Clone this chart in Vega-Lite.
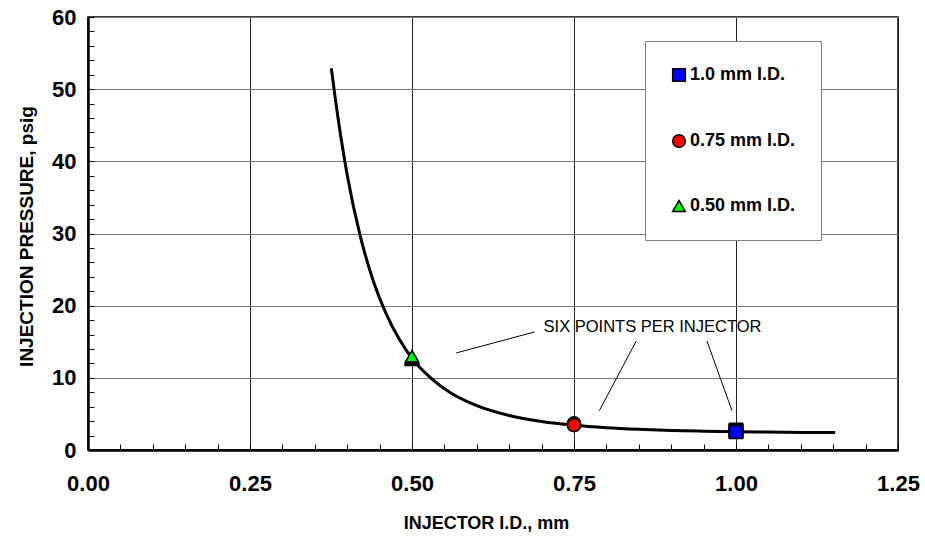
{
  "$schema": "https://vega.github.io/schema/vega-lite/v6.json",
  "width": 810,
  "height": 433,
  "autosize": "none",
  "padding": {"left": 88, "top": 17, "right": 27, "bottom": 86},
  "background": "white",
  "config": {"font": "Liberation Sans", "view": {"stroke": "black", "strokeWidth": 1.5}},
  "datasets": {
    "curve": [
      {"x": 0.3755, "y": 52.9}, {"x": 0.38, "y": 49.8}, {"x": 0.39, "y": 43.5}, {"x": 0.40, "y": 38.1},
      {"x": 0.42, "y": 29.7}, {"x": 0.44, "y": 23.5}, {"x": 0.46, "y": 18.9}, {"x": 0.48, "y": 15.4},
      {"x": 0.50, "y": 12.7}, {"x": 0.53, "y": 9.9}, {"x": 0.56, "y": 7.9}, {"x": 0.60, "y": 6.15},
      {"x": 0.65, "y": 4.78}, {"x": 0.70, "y": 3.95}, {"x": 0.75, "y": 3.43}, {"x": 0.80, "y": 3.09},
      {"x": 0.85, "y": 2.87}, {"x": 0.90, "y": 2.71}, {"x": 0.95, "y": 2.61}, {"x": 1.00, "y": 2.53},
      {"x": 1.05, "y": 2.48}, {"x": 1.10, "y": 2.44}, {"x": 1.153, "y": 2.41}
    ],
    "points": [
      {"series": "0.50 mm I.D.", "x": 0.5, "y": 12.5}, {"series": "0.50 mm I.D.", "x": 0.5, "y": 12.6},
      {"series": "0.50 mm I.D.", "x": 0.5, "y": 12.7}, {"series": "0.50 mm I.D.", "x": 0.5, "y": 12.8},
      {"series": "0.50 mm I.D.", "x": 0.5, "y": 12.9}, {"series": "0.50 mm I.D.", "x": 0.5, "y": 13.0},
      {"series": "0.75 mm I.D.", "x": 0.75, "y": 3.7}, {"series": "0.75 mm I.D.", "x": 0.75, "y": 3.6},
      {"series": "0.75 mm I.D.", "x": 0.75, "y": 3.55}, {"series": "0.75 mm I.D.", "x": 0.75, "y": 3.5},
      {"series": "0.75 mm I.D.", "x": 0.75, "y": 3.45}, {"series": "0.75 mm I.D.", "x": 0.75, "y": 3.45},
      {"series": "1.0 mm I.D.", "x": 1.0, "y": 2.8}, {"series": "1.0 mm I.D.", "x": 1.0, "y": 2.7},
      {"series": "1.0 mm I.D.", "x": 1.0, "y": 2.65}, {"series": "1.0 mm I.D.", "x": 1.0, "y": 2.6},
      {"series": "1.0 mm I.D.", "x": 1.0, "y": 2.55}, {"series": "1.0 mm I.D.", "x": 1.0, "y": 2.5}
    ],
    "leaders": [
      {"x": 0.6894, "y": 16.36, "x2": 0.5683, "y2": 13.45},
      {"x": 0.8461, "y": 15.1, "x2": 0.789, "y2": 5.44},
      {"x": 0.9552, "y": 15.1, "x2": 0.9938, "y2": 5.44}
    ],
    "note": [{"x": 0.703, "y": 17.0, "label": "SIX POINTS PER INJECTOR"}]
  },
  "layer": [
    {
      "data": {"name": "curve"},
      "mark": {"type": "line", "color": "black", "strokeWidth": 3, "interpolate": "monotone"},
      "encoding": {
        "x": {
          "field": "x", "type": "quantitative",
          "scale": {"domain": [0, 1.25], "nice": false, "zero": false},
          "axis": {
            "title": "INJECTOR I.D., mm",
            "values": [0, 0.05, 0.1, 0.15, 0.2, 0.25, 0.3, 0.35, 0.4, 0.45, 0.5, 0.55, 0.6, 0.65, 0.7, 0.75, 0.8, 0.85, 0.9, 0.95, 1.0, 1.05, 1.1, 1.15, 1.2, 1.25],
            "tickCount": 200,
            "format": ".2f",
            "labelExpr": "round(datum.value*100) % 25 === 0 ? datum.label : ''",
            "labelFont": "Liberation Sans", "labelFontSize": 22, "labelFontWeight": "bold", "labelColor": "black",
            "labelPadding": 29, "labelFlush": false, "labelOverlap": false, "labelBound": false,
            "tickSize": -6, "tickColor": "black", "tickWidth": 1,
            "domainColor": "black", "domainWidth": 2.5,
            "grid": true, "gridColor": "#222", "gridWidth": 1,
            "gridOpacity": {"condition": {"test": "round(datum.value*100) % 25 !== 0", "value": 0}, "value": 1},
            "titleFont": "Liberation Sans", "titleFontSize": 18, "titleFontWeight": "bold", "titleColor": "black",
            "titleX": 398, "titleY": 73, "titleAlign": "center", "titleBaseline": "middle", "titleAnchor": null
          }
        },
        "y": {
          "field": "y", "type": "quantitative",
          "scale": {"domain": [0, 60], "nice": false},
          "axis": {
            "title": "INJECTION PRESSURE, psig",
            "values": [0, 2, 4, 6, 8, 10, 12, 14, 16, 18, 20, 22, 24, 26, 28, 30, 32, 34, 36, 38, 40, 42, 44, 46, 48, 50, 52, 54, 56, 58, 60],
            "tickCount": 200,
            "format": "d",
            "labelExpr": "datum.value % 10 === 0 ? datum.label : ''",
            "labelFont": "Liberation Sans", "labelFontSize": 22, "labelFontWeight": "bold", "labelColor": "black",
            "labelPadding": 18, "labelFlush": false, "labelOverlap": false, "labelBound": false,
            "tickSize": -6, "tickColor": "black", "tickWidth": 1,
            "domainColor": "black", "domainWidth": 2.5,
            "grid": true, "gridColor": "#777", "gridWidth": 1.2,
            "gridOpacity": {"condition": {"test": "datum.value % 10 !== 0", "value": 0}, "value": 1},
            "titleFont": "Liberation Sans", "titleFontSize": 19, "titleFontWeight": "bold", "titleColor": "black",
            "titleX": -62, "titleY": 219, "titleAngle": -90, "titleAlign": "center", "titleBaseline": "middle", "titleAnchor": null
          }
        }
      }
    },
    {
      "data": {"name": "leaders"},
      "mark": {"type": "rule", "color": "black", "strokeWidth": 1},
      "encoding": {
        "x": {"field": "x", "type": "quantitative"},
        "y": {"field": "y", "type": "quantitative"},
        "x2": {"field": "x2"},
        "y2": {"field": "y2"}
      }
    },
    {
      "data": {"name": "note"},
      "mark": {"type": "text", "align": "left", "baseline": "middle", "fontSize": 16.5, "font": "Liberation Sans", "color": "black"},
      "encoding": {
        "x": {"field": "x", "type": "quantitative"},
        "y": {"field": "y", "type": "quantitative"},
        "text": {"field": "label"}
      }
    },
    {
      "data": {"name": "points"},
      "mark": {"type": "point", "filled": true, "stroke": "black", "strokeWidth": 1.5, "size": 170, "opacity": 1},
      "encoding": {
        "x": {"field": "x", "type": "quantitative"},
        "y": {"field": "y", "type": "quantitative"},
        "shape": {
          "field": "series", "type": "nominal",
          "scale": {"domain": ["1.0 mm I.D.", "0.75 mm I.D.", "0.50 mm I.D."], "range": ["square", "circle", "triangle-up"]},
          "legend": {"orient": "none", "legendX": 557, "legendY": 24, "title": null, "padding": 25, "rowPadding": 46, "fillColor": "white", "strokeColor": "#808080", "labelFont": "Liberation Sans", "labelFontSize": 18, "labelFontWeight": "bold", "labelColor": "black", "labelOffset": 2, "symbolSize": 160, "symbolStrokeColor": "black", "symbolStrokeWidth": 1.5}
        },
        "color": {
          "field": "series", "type": "nominal",
          "scale": {"domain": ["1.0 mm I.D.", "0.75 mm I.D.", "0.50 mm I.D."], "range": ["#0000ff", "#ff0000", "#00ff00"]},
          "legend": {"orient": "none", "legendX": 557, "legendY": 24, "title": null, "padding": 25, "rowPadding": 46, "fillColor": "white", "strokeColor": "#808080", "labelFont": "Liberation Sans", "labelFontSize": 18, "labelFontWeight": "bold", "labelColor": "black", "labelOffset": 2, "symbolSize": 160, "symbolStrokeColor": "black", "symbolStrokeWidth": 1.5}
        }
      }
    }
  ]
}
